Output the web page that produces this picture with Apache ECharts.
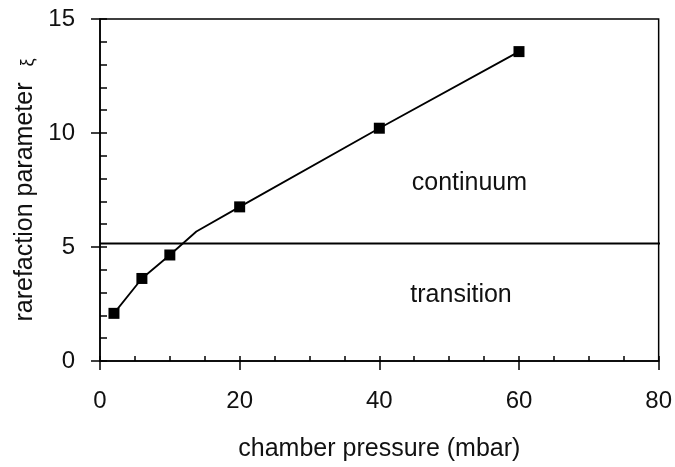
<!DOCTYPE html>
<html>
<head>
<meta charset="utf-8">
<script src="https://cdn.jsdelivr.net/npm/echarts@6/dist/echarts.min.js"></script>
<style>
html,body{margin:0;padding:0;background:#fff;}
#chart{width:675px;height:467px;}
</style>
</head>
<body>
<div id="chart"></div>
<script>
// measured points (chamber pressure in mbar, rarefaction parameter)
var pressure = [2, 6, 10, 20, 40, 60];
var xi = [2.09, 3.62, 4.65, 6.76, 10.21, 13.57];
// curve through the points (includes the bend near 14 mbar)
var curvePressure = [2, 6, 10, 13.8, 20, 40, 60];
var curveXi = [2.09, 3.62, 4.65, 5.68, 6.76, 10.21, 13.57];
// regime boundary
var boundaryXi = 5.15;
var boundaryPressure = [0, 81.5];
// regime labels
var regionText = ['continuum', 'transition'];
var regionPressure = [52.9, 51.7];
var regionXi = [7.8, 2.88];

var FONT = '"Liberation Sans", Arial, sans-serif';
var TXT = '#111';

var markers = pressure.map(function (p, i) { return [p, xi[i]]; });
var curve = curvePressure.map(function (p, i) { return [p, curveXi[i]]; });
var boundary = boundaryPressure.map(function (p) { return [p, boundaryXi]; });
var regions = regionText.map(function (t, i) { return { value: [regionPressure[i], regionXi[i]], name: t }; });

var chart = echarts.init(document.getElementById('chart'), null, { renderer: 'canvas' });
chart.setOption({
  animation: false,
  backgroundColor: '#fff',
  grid: { left: 100, right: 15, top: 19, bottom: 100, show: true, borderColor: '#000', borderWidth: 1.5, backgroundColor: 'transparent' },
  xAxis: [{
    type: 'value', min: 0, max: 80, interval: 20, position: 'bottom',
    name: 'chamber pressure (mbar)', nameLocation: 'middle', nameGap: 76,
    nameTextStyle: { fontFamily: FONT, fontSize: 25, color: TXT },
    axisLine: { onZero: false, lineStyle: { color: '#000', width: 1.5 } },
    axisTick: { show: true, inside: false, length: 9, lineStyle: { color: '#000', width: 1.5 } },
    axisLabel: { margin: 28, fontFamily: FONT, fontSize: 24, color: TXT },
    splitLine: { show: false }
  }, {
    type: 'value', min: 0, max: 80, interval: 5, position: 'bottom', offset: 0,
    axisLine: { show: false },
    axisTick: { show: true, inside: true, length: 5, lineStyle: { color: '#000', width: 1.5 } },
    axisLabel: { show: false },
    splitLine: { show: false }
  }],
  yAxis: [{
    type: 'value', min: 0, max: 15, interval: 5, position: 'left',
    name: 'rarefaction parameter{s|ξ}', nameLocation: 'middle', nameGap: 57, nameRotate: 90,
    nameTextStyle: { fontFamily: FONT, fontSize: 25, color: TXT,
      rich: { s: { fontFamily: FONT, fontSize: 18, color: TXT, verticalAlign: 'bottom', padding: [0, 0, 0, 16] } } },
    axisLine: { onZero: false, lineStyle: { color: '#000', width: 1.5 } },
    axisTick: { show: true, inside: false, length: 9, lineStyle: { color: '#000', width: 1.5 } },
    axisLabel: { margin: 25, fontFamily: FONT, fontSize: 24, color: TXT },
    splitLine: { show: false }
  }, {
    type: 'value', min: 0, max: 15, interval: 1, position: 'left', offset: 0,
    axisLine: { show: false },
    axisTick: { show: true, inside: true, length: 7, lineStyle: { color: '#000', width: 1.5 } },
    axisLabel: { show: false },
    splitLine: { show: false }
  }],
  series: [{
    type: 'line', data: boundary, symbol: 'none', clip: false,
    lineStyle: { color: '#000', width: 2 }, silent: true
  }, {
    type: 'line', data: curve, symbol: 'none',
    lineStyle: { color: '#000', width: 1.8 }
  }, {
    type: 'scatter', data: markers, symbol: 'rect', symbolSize: 11,
    itemStyle: { color: '#000', opacity: 1 }
  }, {
    type: 'scatter', data: regions, symbolSize: 0,
    itemStyle: { opacity: 1 },
    label: { show: true, position: 'inside', formatter: function (p) { return p.name; },
      fontFamily: FONT, fontSize: 25, color: TXT, opacity: 1 }
  }]
});
</script>
</body>
</html>
